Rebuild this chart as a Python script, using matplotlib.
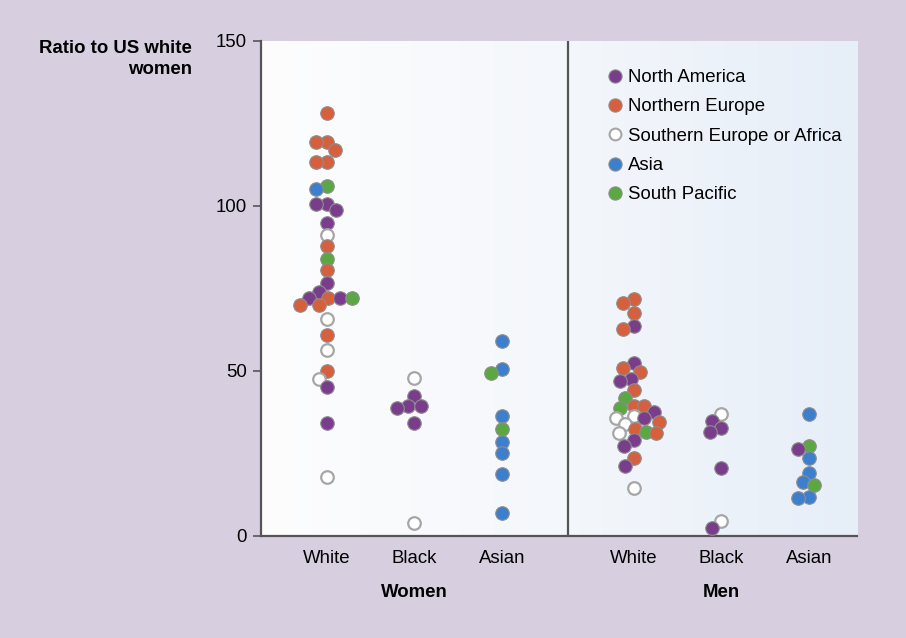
import numpy as np
import matplotlib
matplotlib.use("Agg")
import matplotlib.pyplot as plt
from matplotlib.lines import Line2D
from matplotlib.colors import LinearSegmentedColormap

plt.rcParams['font.family'] = ['Liberation Sans', 'DejaVu Sans']

# ratio values and region of each point, one pair of lists per column
women_white = [128, 119.3, 119.3, 117, 113.4, 113.4, 106, 105, 100.5, 100.5, 98.8, 94.7,
               91.1, 87.7, 84, 80.6, 76.5, 74, 72.2, 72.2, 72.2, 72.2, 70.1, 70.1,
               65.8, 61, 56.2, 50.1, 47.6, 45, 34.2, 18]
women_white_reg = ['NE', 'NE', 'NE', 'NE', 'NE', 'NE', 'SP', 'AS', 'NA', 'NA', 'NA', 'NA',
                   'SE', 'NE', 'SP', 'NE', 'NA', 'NA', 'NE', 'NA', 'NA', 'SP', 'NE', 'NE',
                   'SE', 'NE', 'SE', 'NE', 'SE', 'NA', 'NA', 'SE']

women_black = [47.7, 42.3, 39.5, 39.5, 38.8, 34.2, 4]
women_black_reg = ['SE', 'NA', 'NA', 'NA', 'NA', 'NA', 'SE']

women_asian = [59.2, 50.6, 49.4, 36.2, 32.4, 28.6, 25.1, 18.8, 6.9]
women_asian_reg = ['AS', 'AS', 'SP', 'AS', 'SP', 'AS', 'AS', 'AS', 'AS']

men_white = [71.9, 70.5, 67.6, 63.6, 62.8, 52.4, 50.9, 49.6, 47.6, 46.9, 44.3, 41.8,
             39.5, 39.5, 38.8, 37.4, 36.2, 35.7, 35.7, 34.4, 34, 32.4, 31.4, 31.2,
             31.2, 29.1, 27.1, 23.6, 21.3, 14.5]
men_white_reg = ['NE', 'NE', 'NE', 'NA', 'NE', 'NA', 'NE', 'NE', 'NA', 'NA', 'NE', 'SP',
                 'NE', 'NE', 'SP', 'NA', 'SE', 'NA', 'SE', 'NE', 'SE', 'NE', 'SP', 'SE',
                 'NE', 'NA', 'NA', 'NE', 'NA', 'SE']

men_black = [37, 34.9, 32.7, 31.4, 20.6, 4.6, 2.5]
men_black_reg = ['SE', 'NA', 'NA', 'NA', 'NA', 'SE', 'NA']

men_asian = [37, 27.3, 26.3, 23.6, 19.2, 16.2, 15.5, 11.8, 11.6]
men_asian_reg = ['AS', 'SP', 'NA', 'AS', 'AS', 'AS', 'SP', 'AS', 'AS']

categories = ['White', 'Black', 'Asian', 'White', 'Black', 'Asian']
groups = ['Women', 'Men']
regions = ['NA', 'NE', 'SE', 'AS', 'SP']
region_names = ['North America', 'Northern Europe', 'Southern Europe or Africa',
                'Asia', 'South Pacific']
region_colors = {'NA': '#7a3d8c', 'NE': '#d6603e', 'SE': 'white',
                 'AS': '#3d7fcf', 'SP': '#5ba843'}

columns = [(women_white, women_white_reg), (women_black, women_black_reg),
           (women_asian, women_asian_reg), (men_white, men_white_reg),
           (men_black, men_black_reg), (men_asian, men_asian_reg)]
xpos = [0, 1, 2, 3.5, 4.5, 5.5]
divider = 2.75
FS = 13.4


def swarm(values, dx, dy, gap=0.8):
    # simple beeswarm: put each point as close to the centre as it fits
    values = np.asarray(values, dtype=float)
    offsets = np.zeros(len(values))
    placed = []
    steps = sorted(np.arange(-40, 41) * 0.1, key=lambda k: (abs(k), k))
    for i in np.argsort(-values):
        for k in steps:
            ok = True
            for j in placed:
                d = np.hypot((k * dx - offsets[j]) / dx, (values[i] - values[j]) / dy)
                if d < gap:
                    ok = False
                    break
            if ok:
                offsets[i] = k * dx
                break
        placed.append(i)
    return offsets


fig = plt.figure(figsize=(9.06, 6.38), dpi=100)
fig.patch.set_facecolor('#d7cfe0')
ax = fig.add_axes([0.288, 0.160, 0.658, 0.776])

xlim = (-0.75, 6.05)
ylim = (0, 150)
ax.set_xlim(*xlim)
ax.set_ylim(*ylim)

# faint white-to-blue wash across the panel
grad = np.linspace(0, 1, 256)[None, :]
wash = LinearSegmentedColormap.from_list('wash', ['#fdfdfe', '#f4f7fb', '#e6eef8'])
ax.imshow(grad, extent=(*xlim, *ylim), aspect='auto', cmap=wash, zorder=0)

# marker diameter in data units
dx = 13.5 / (906 * 0.658) * (xlim[1] - xlim[0])
dy = 13.5 / (638 * 0.776) * (ylim[1] - ylim[0])

for x0, (vals, regs) in zip(xpos, columns):
    offs = swarm(vals, dx, dy)
    for v, r, o in zip(vals, regs, offs):
        if r == 'SE':
            ax.scatter(x0 + o, v, s=82, facecolor='white', edgecolor='#a6a6a6',
                       linewidth=1.6, zorder=3)
        else:
            ax.scatter(x0 + o, v, s=95, facecolor=region_colors[r], edgecolor='#8d8d8d',
                       linewidth=0.8, zorder=3)

ax.axvline(divider, color='#555555', lw=1.6, zorder=2)

for s in ['top', 'right']:
    ax.spines[s].set_visible(False)
for s in ['left', 'bottom']:
    ax.spines[s].set_color('#555555')
    ax.spines[s].set_linewidth(1.6)

ax.set_yticks([0, 50, 100, 150])
ax.tick_params(axis='y', length=6, width=1.2, color='#555555', labelsize=FS, pad=4)
ax.set_xticks(xpos)
ax.set_xticklabels(categories)
ax.tick_params(axis='x', length=0, labelsize=FS, pad=10)

for gx, g in zip([1, 4.5], groups):
    ax.text(gx, -0.097, g, transform=ax.get_xaxis_transform(), ha='center', va='top',
            fontsize=FS, fontweight='bold')

fig.text(0.212, 0.938, 'Ratio to US white\nwomen', ha='right', va='top', fontsize=FS,
         fontweight='bold', linespacing=1.35)

handles = []
for r in regions:
    if r == 'SE':
        handles.append(Line2D([], [], ls='none', marker='o', ms=8.5, mfc='white',
                              mec='#a6a6a6', mew=1.5))
    else:
        handles.append(Line2D([], [], ls='none', marker='o', ms=9.5,
                              mfc=region_colors[r], mec='#8d8d8d', mew=0.8))
ax.legend(handles, region_names, loc='upper left', bbox_to_anchor=(0.565, 0.958),
          frameon=False, fontsize=FS, handletextpad=0.25, labelspacing=0.66,
          handlelength=1.0, borderaxespad=0)

fig.savefig('out.png', dpi=100, facecolor=fig.get_facecolor())
